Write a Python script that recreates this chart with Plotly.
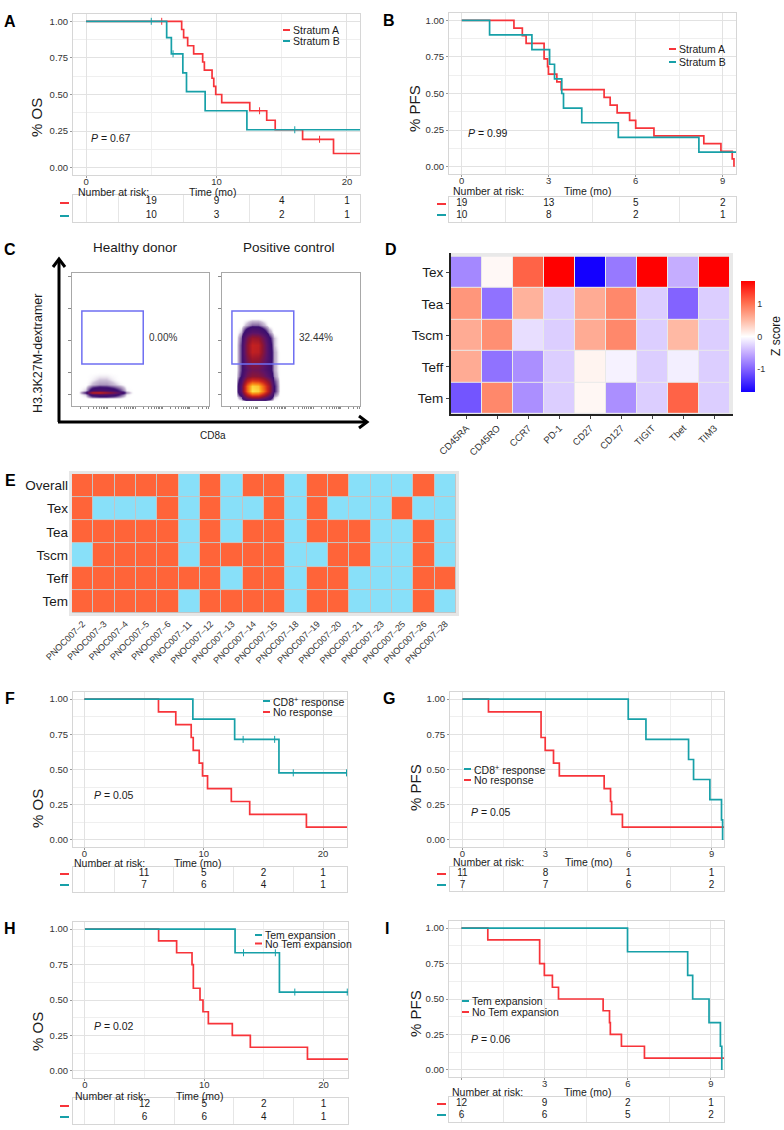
import math
import plotly.graph_objects as go

W, H = 784, 1130
FONT = "Liberation Sans, Arial, Helvetica, sans-serif"
INK = "#1a1a1a"
RED = "#f7343a"
TEAL = "#17a0a8"

# ---------------- data ----------------
# A: overall survival by stratum (months, survival fraction)
A_red_t = [0, 7.33, 7.48, 7.79, 8.25, 8.94, 9.07, 9.66, 9.79, 9.94, 10.4, 12.55, 13.85, 14.5, 16.6, 18.97]
A_red_s = [1.0, 0.944, 0.889, 0.833, 0.778, 0.722, 0.667, 0.611, 0.556, 0.5, 0.444, 0.389, 0.324, 0.259, 0.194, 0.097]
A_red_cens = [5.8, 13.3, 17.9]
A_teal_t = [0, 6.18, 6.54, 7.42, 7.7, 9.13, 12.33]
A_teal_s = [1.0, 0.889, 0.778, 0.648, 0.519, 0.389, 0.259]
A_teal_cens = [5.0, 6.67, 16.0]
A_risk_t = [5, 10, 15, 20]
A_risk_red = [19, 9, 4, 1]
A_risk_teal = [10, 3, 2, 1]

# B: progression-free survival by stratum
B_red_t = [0, 1.8, 2.09, 2.22, 2.84, 2.96, 2.99, 3.28, 3.43, 4.91, 5.12, 5.36, 5.79, 6.0, 6.63, 8.35, 8.94, 9.33, 9.39]
B_red_s = [1.0, 0.947, 0.895, 0.842, 0.737, 0.684, 0.632, 0.579, 0.526, 0.474, 0.421, 0.368, 0.316, 0.263, 0.21, 0.158, 0.105, 0.053, 0.0]
B_teal_t = [0, 0.96, 2.42, 3.03, 3.2, 3.45, 3.51, 4.14, 5.4, 8.18]
B_teal_s = [1.0, 0.9, 0.8, 0.7, 0.6, 0.5, 0.4, 0.3, 0.2, 0.1]
B_risk_t = [0, 3, 6, 9]
B_risk_red = [19, 13, 5, 2]
B_risk_teal = [10, 8, 2, 1]

# C: flow density grids (x, y in display decades)
C_hd_x = [0.25, 0.5, 0.75, 1.0, 1.25, 1.5, 1.75, 2.0, 2.25]
C_hd_y = [0.3, 0.44, 0.52, 0.6, 0.8, 1.0, 1.3]
C_hd_z = [
    [0, 0, 0, 0, 0, 0, 0, 0, 0],
    [0, 0.1, 0.8, 1.0, 1.0, 0.8, 0.4, 0.05, 0],
    [0, 0.5, 4.2, 4.6, 3.6, 2.5, 1.2, 0.2, 0],
    [0, 0.1, 0.8, 1.0, 0.9, 0.7, 0.4, 0.05, 0],
    [0, 0, 0.12, 0.2, 0.2, 0.12, 0.05, 0, 0],
    [0, 0, 0.05, 0.1, 0.1, 0.05, 0, 0, 0],
    [0, 0, 0, 0, 0, 0, 0, 0, 0],
]
C_pc_x = [0.5, 0.7, 0.9, 1.1, 1.3, 1.5, 1.7, 1.9, 2.1, 2.3]
C_pc_y = [0.2, 0.35, 0.55, 0.75, 0.95, 1.15, 1.35, 1.55, 1.8, 2.05, 2.3, 2.55, 2.8, 3.05, 3.3]
C_pc_z = [
    [0, 0, 0, 0, 0, 0, 0, 0, 0, 0],
    [0, 0.3, 2.5, 3.5, 3.5, 2.5, 1.2, 0.1, 0, 0],
    [0, 1.5, 6.5, 10, 9.5, 7, 3.5, 0.5, 0, 0],
    [0, 1.5, 6.5, 9.5, 9, 6.5, 3.5, 0.5, 0, 0],
    [0, 1.0, 4.2, 5.5, 5.2, 4.2, 2.5, 0.4, 0, 0],
    [0, 0.5, 2.2, 2.8, 2.7, 2.2, 1.2, 0.2, 0, 0],
    [0, 0.4, 1.6, 2.1, 2.0, 1.5, 0.8, 0.15, 0, 0],
    [0, 0.4, 1.9, 2.6, 2.5, 1.7, 0.8, 0.15, 0, 0],
    [0, 0.4, 2.4, 3.4, 3.2, 2.2, 0.9, 0.15, 0, 0],
    [0, 0.4, 2.8, 4.3, 4.1, 2.6, 0.9, 0.15, 0, 0],
    [0, 0.4, 2.8, 4.4, 4.2, 2.6, 0.8, 0.1, 0, 0],
    [0, 0.3, 2.2, 3.3, 3.1, 2.0, 0.6, 0.1, 0, 0],
    [0, 0.1, 0.9, 1.4, 1.3, 0.8, 0.2, 0, 0, 0],
    [0, 0, 0.15, 0.3, 0.3, 0.15, 0, 0, 0, 0],
    [0, 0, 0, 0, 0, 0, 0, 0, 0, 0],
]
C_gate = [0.36, 2.6, 1.58, 3.57]
C_pct = ["0.00%", "32.44%"]

# D: z scores
D_markers = ["CD45RA", "CD45RO", "CCR7", "PD-1", "CD27", "CD127", "TIGIT", "Tbet", "TIM3"]
D_subsets = ["Tex", "Tea", "Tscm", "Teff", "Tem"]
D_z = [
    [-0.75, 0.05, 1.1, 1.7, -1.7, -0.85, 1.7, -0.5, 1.7],
    [0.75, -0.9, 0.55, -0.3, 0.6, 0.85, -0.3, -1.0, -0.3],
    [0.6, 0.8, -0.2, -0.3, 0.6, 0.85, -0.3, 0.5, -0.3],
    [0.6, -0.9, -0.7, -0.3, 0.08, -0.08, -0.3, -0.1, -0.3],
    [-1.1, 0.85, -0.7, -0.3, 0.06, -0.7, -0.3, 1.1, -0.3],
]

# E: response per patient (1 = response, 0 = none)
E_patients = ["PNOC007–2", "PNOC007–3", "PNOC007–4", "PNOC007–5", "PNOC007–6", "PNOC007–11",
              "PNOC007–12", "PNOC007–13", "PNOC007–14", "PNOC007–15", "PNOC007–18", "PNOC007–19",
              "PNOC007–20", "PNOC007–21", "PNOC007–23", "PNOC007–25", "PNOC007–26", "PNOC007–28"]
E_rows = ["Overall", "Tex", "Tea", "Tscm", "Teff", "Tem"]
E_z = [
    [1, 1, 1, 1, 1, 0, 1, 0, 1, 1, 0, 1, 1, 0, 0, 0, 1, 0],
    [1, 0, 0, 0, 1, 0, 1, 0, 0, 1, 0, 1, 0, 0, 0, 1, 0, 0],
    [1, 1, 1, 1, 1, 0, 1, 0, 1, 1, 0, 1, 1, 1, 0, 0, 1, 0],
    [0, 1, 1, 1, 1, 0, 1, 1, 1, 1, 0, 0, 1, 1, 0, 0, 1, 0],
    [1, 1, 1, 1, 1, 1, 1, 0, 1, 1, 0, 1, 1, 0, 0, 0, 1, 1],
    [1, 1, 1, 1, 1, 0, 1, 1, 1, 1, 0, 1, 1, 0, 0, 0, 1, 0],
]

# F: OS by CD8+ response
F_red_t = [0, 6.21, 7.66, 8.95, 9.12, 9.62, 9.9, 10.32, 12.31, 13.85, 18.6]
F_red_s = [1.0, 0.909, 0.818, 0.727, 0.636, 0.545, 0.455, 0.364, 0.273, 0.182, 0.091]
F_teal_t = [0, 9.09, 12.59, 16.3]
F_teal_s = [1.0, 0.857, 0.714, 0.476]
F_teal_cens = [13.3, 15.94, 17.5, 21.96]
F_risk_t = [5, 10, 15, 20]
F_risk_red = [11, 5, 2, 1]
F_risk_teal = [7, 6, 4, 1]

# G: PFS by CD8+ response
G_red_t = [0, 0.94, 2.84, 2.99, 3.29, 3.5, 5.12, 5.35, 5.39, 5.78]
G_red_s = [1.0, 0.909, 0.727, 0.636, 0.545, 0.455, 0.364, 0.273, 0.182, 0.091]
G_teal_t = [0, 5.99, 6.63, 8.17, 8.35, 8.94, 9.36, 9.4]
G_teal_s = [1.0, 0.857, 0.714, 0.571, 0.429, 0.286, 0.143, 0.0]
G_risk_t = [0, 3, 6, 9]
G_risk_red = [11, 8, 1, 1]
G_risk_teal = [7, 7, 6, 2]

# H: OS by Tem expansion
H_red_t = [0, 6.18, 7.69, 8.98, 9.09, 9.65, 9.9, 10.35, 12.36, 13.87, 18.66]
H_red_s = [1.0, 0.917, 0.833, 0.75, 0.583, 0.5, 0.417, 0.333, 0.25, 0.167, 0.083]
H_teal_t = [0, 12.59, 16.31]
H_teal_s = [1.0, 0.833, 0.556]
H_teal_cens = [13.3, 15.97, 17.6, 22.0]
H_risk_t = [5, 10, 15, 20]
H_risk_red = [12, 5, 2, 1]
H_risk_teal = [6, 6, 4, 1]

# I: PFS by Tem expansion
I_red_t = [0, 0.95, 2.82, 2.99, 3.28, 3.5, 5.11, 5.34, 5.37, 5.77, 6.6]
I_red_s = [1.0, 0.917, 0.75, 0.667, 0.583, 0.5, 0.417, 0.333, 0.25, 0.167, 0.083]
I_teal_t = [0, 5.99, 8.16, 8.34, 8.93, 9.34, 9.39]
I_teal_s = [1.0, 0.833, 0.667, 0.5, 0.333, 0.167, 0.0]
I_risk_t = [0, 3, 6, 9]
I_risk_red = [12, 9, 2, 1]
I_risk_teal = [6, 6, 5, 2]

# ---------------- helpers ----------------
fig = go.Figure()
layout = {}
ann = []
shapes = []
n_ax = [0]


def new_axes(box, xaxis, yaxis):
    n_ax[0] += 1
    sx = "" if n_ax[0] == 1 else str(n_ax[0])
    x0, y0, x1, y1 = box
    layout["xaxis" + sx] = dict(domain=[x0 / W, x1 / W], anchor="y" + sx, automargin=False, **xaxis)
    layout["yaxis" + sx] = dict(domain=[1 - y1 / H, 1 - y0 / H], anchor="x" + sx, automargin=False, **yaxis)
    return "x" + sx, "y" + sx


def text(x, y, s, size=10.5, xanchor="left", angle=0, bold=False, color=INK):
    ann.append(dict(x=x / W, y=1 - y / H, xref="paper", yref="paper", text=s, showarrow=False,
                    xanchor=xanchor, yanchor="middle", textangle=angle,
                    font=dict(size=size, family=FONT, color=color,
                              weight="bold" if bold else "normal")))


def seg(x0, y0, x1, y1, color, width=2):
    shapes.append(dict(type="line", xref="paper", yref="paper", x0=x0 / W, y0=1 - y0 / H,
                       x1=x1 / W, y1=1 - y1 / H, line=dict(color=color, width=width)))


def step_at(ts, ss, t):
    v = ss[0]
    for a, b in zip(ts, ss):
        if a <= t:
            v = b
    return v


def km_panel(p):
    pfs = p["pfs"]
    xmaj = [0, 3, 6, 9] if pfs else [0, 10, 20]
    xmin_ = [1.5, 4.5, 7.5] if pfs else [5, 15]
    tgrid = [0, 1.5, 4.5, 7.5] if pfs else [0, 2.5, 7.5, 12.5, 17.5]
    xlab = p.get("xlab", [str(v) for v in xmaj])
    ax = dict(range=p["xr"], tickvals=xmaj, ticktext=xlab, showgrid=True, gridcolor="#e2e2e2",
              minor=dict(tickvals=xmin_, showgrid=True, gridcolor="#efefef"),
              showline=True, mirror=True, linecolor="#d6d6d6", ticks="outside", ticklen=2,
              ticklabelstandoff=-4,
              tickcolor="#9a9a9a", tickfont=dict(size=9.5, family=FONT, color="#333"), zeroline=False)
    ay = dict(range=[-0.05, 1.05], tickvals=[0, 0.25, 0.5, 0.75, 1.0],
              ticktext=["0.00", "0.25", "0.50", "0.75", "1.00"], showgrid=True, gridcolor="#e2e2e2",
              minor=dict(tickvals=[0.125, 0.375, 0.625, 0.875], showgrid=True, gridcolor="#efefef"),
              showline=True, mirror=True, linecolor="#d6d6d6", ticks="outside", ticklen=2,
              tickcolor="#9a9a9a", tickfont=dict(size=9.5, family=FONT, color="#333"), zeroline=False)
    xa, ya = new_axes(p["box"], ax, ay)
    for c in p["curves"]:
        fig.add_trace(go.Scatter(x=c["t"] + [c["end"]], y=c["s"] + [c["s"][-1]], xaxis=xa, yaxis=ya,
                                 mode="lines", line=dict(color=c["color"], width=1.7, shape="hv"),
                                 showlegend=False, hoverinfo="skip"))
        if c.get("cens"):
            fig.add_trace(go.Scatter(x=c["cens"], y=[step_at(c["t"], c["s"], t) for t in c["cens"]],
                                     xaxis=xa, yaxis=ya, mode="markers",
                                     marker=dict(symbol="line-ns", size=5,
                                                 line=dict(color=c["color"], width=1)),
                                     showlegend=False, hoverinfo="skip"))
    # risk table
    tx = dict(range=p["xr"], tickvals=tgrid, showticklabels=False, showgrid=True, gridcolor="#e6e6e6",
              showline=True, mirror=True, linecolor="#d6d6d6", ticks="", zeroline=False)
    ty = dict(range=[0.5, 2.5], showticklabels=False, showgrid=False, showline=True, mirror=True,
              linecolor="#d6d6d6", zeroline=False)
    txa, tya = new_axes(p["tbox"], tx, ty)
    for row, vals in ((2, p["risk_red"]), (1, p["risk_teal"])):
        fig.add_trace(go.Scatter(x=p["risk_t"], y=[row] * len(vals), text=[str(v) for v in vals],
                                 mode="text", xaxis=txa, yaxis=tya, cliponaxis=False,
                                 textfont=dict(size=10, family=FONT, color=INK),
                                 showlegend=False, hoverinfo="skip"))
    kx = p["key_x"]
    ty0, ty1 = p["trows"]
    seg(kx, ty0, kx + 9, ty0, RED, 2)
    seg(kx, ty1, kx + 9, ty1, TEAL, 2)
    text(p["nar"][0], p["nar"][1], "Number at risk:", size=10.5)
    text(p["time"][0], p["time"][1], "Time (mo)", size=10.5, xanchor="center")
    text(p["ylab"][0], p["ylab"][1], "% PFS" if pfs else "% OS", size=15, xanchor="center", angle=-90)
    text(p["p"][0], p["p"][1], "<i>P</i> = " + p["pval"], size=10.5)
    lx, ly, dy = p["leg"]
    for i, (lab, col) in enumerate(p["legend"]):
        yy = ly + i * dy
        seg(lx, yy, lx + 7, yy, col, 2)
        text(lx + 8, yy, lab, size=10.5)


# ---------------- KM panels ----------------
km_panel(dict(pfs=False, box=(73, 14, 360, 175), tbox=(73, 195, 360, 222), xr=[-1.0, 21.0],
              curves=[dict(t=A_red_t, s=A_red_s, end=22, cens=A_red_cens, color=RED),
                      dict(t=A_teal_t, s=A_teal_s, end=22, cens=A_teal_cens, color=TEAL)],
              risk_t=A_risk_t, risk_red=A_risk_red, risk_teal=A_risk_teal,
              key_x=60, trows=(203, 216), nar=(76, 192), time=(212, 192), ylab=(37, 118),
              p=(89, 138), pval="0.67", leg=(283, 30, 11),
              legend=[("Stratum A", RED), ("Stratum B", TEAL)]))
km_panel(dict(pfs=True, box=(449, 13, 736, 174), tbox=(449, 197, 736, 222), xr=[-0.44, 9.46],
              curves=[dict(t=B_red_t, s=B_red_s, end=9.39, color=RED),
                      dict(t=B_teal_t, s=B_teal_s, end=9.5, color=TEAL)],
              risk_t=B_risk_t, risk_red=B_risk_red, risk_teal=B_risk_teal,
              key_x=437, trows=(204, 215), nar=(451, 191), time=(587, 191), ylab=(415, 109),
              p=(466, 133), pval="0.99", leg=(669, 49, 13),
              legend=[("Stratum A", RED), ("Stratum B", TEAL)]))
km_panel(dict(pfs=False, box=(73, 692, 347, 847), tbox=(73, 867, 347, 892), xr=[-0.95, 22.0],
              curves=[dict(t=F_red_t, s=F_red_s, end=23, color=RED),
                      dict(t=F_teal_t, s=F_teal_s, end=23, cens=F_teal_cens, color=TEAL)],
              risk_t=F_risk_t, risk_red=F_risk_red, risk_teal=F_risk_teal,
              key_x=60, trows=(874, 885), nar=(72, 863), time=(198, 863), ylab=(37, 809),
              p=(92, 795), pval="0.05", leg=(263, 701, 11),
              legend=[("CD8<sup>+</sup> response", TEAL), ("No response", RED)]))
km_panel(dict(pfs=True, box=(450, 692, 724, 847), tbox=(450, 867, 724, 891), xr=[-0.45, 9.45],
              curves=[dict(t=G_red_t, s=G_red_s, end=9.5, color=RED),
                      dict(t=G_teal_t, s=G_teal_s, end=9.4, color=TEAL)],
              risk_t=G_risk_t, risk_red=G_risk_red, risk_teal=G_risk_teal,
              key_x=437, trows=(874, 885), nar=(451, 862), time=(588, 862), ylab=(415, 788),
              p=(469, 812), pval="0.05", leg=(464, 769, 11),
              legend=[("CD8<sup>+</sup> response", TEAL), ("No response", RED)]))
km_panel(dict(pfs=False, box=(73, 922, 348, 1078), tbox=(73, 1098, 348, 1124), xr=[-1.0, 22.06],
              curves=[dict(t=H_red_t, s=H_red_s, end=23, color=RED),
                      dict(t=H_teal_t, s=H_teal_s, end=23, cens=H_teal_cens, color=TEAL)],
              risk_t=H_risk_t, risk_red=H_risk_red, risk_teal=H_risk_teal,
              key_x=60, trows=(1106, 1117), nar=(73, 1096), time=(199, 1096), ylab=(37, 1032),
              p=(92, 1026), pval="0.02", leg=(255, 935, 8.5),
              legend=[("Tem expansion", TEAL), ("No Tem expansion", RED)]))
km_panel(dict(pfs=True, box=(449, 921, 724, 1077), tbox=(449, 1097, 724, 1122), xr=[-0.45, 9.47],
              xlab=["", "3", "6", "9"],
              curves=[dict(t=I_red_t, s=I_red_s, end=9.5, color=RED),
                      dict(t=I_teal_t, s=I_teal_s, end=9.39, color=TEAL)],
              risk_t=I_risk_t, risk_red=I_risk_red, risk_teal=I_risk_teal,
              key_x=437, trows=(1104, 1115), nar=(450, 1092), time=(587, 1092), ylab=(415, 1014),
              p=(469, 1039), pval="0.06", leg=(462, 1001, 11),
              legend=[("Tem expansion", TEAL), ("No Tem expansion", RED)]))

# ---------------- C: flow plots ----------------
flow_cs = [[0, "rgba(255,255,255,0)"], [0.01, "rgba(60,10,100,0.25)"], [0.05, "#3b0f70"],
           [0.16, "#5e1468"], [0.3, "#921530"], [0.45, "#c8221f"], [0.62, "#ee5a17"],
           [0.8, "#fb9b1a"], [1.0, "#fde64b"]]
xticks = [d + math.log10(m) for d in (0.3, 1.3, 2.3, 3.3, 4.3) for m in range(1, 10) if d + math.log10(m) < 5]
for box, gx, gy, gz, pct in (((72, 273, 209, 406), C_hd_x, C_hd_y, C_hd_z, C_pct[0]),
                             ((222, 273, 360, 406), C_pc_x, C_pc_y, C_pc_z, C_pct[1])):
    fx = dict(range=[0, 5], tickvals=xticks, showticklabels=False, showgrid=False, zeroline=False,
              showline=True, mirror=True, linecolor="#a8a8a8", ticks="outside", ticklen=2,
              tickcolor="#8a8a8a")
    fy = dict(range=[0, 5], tickvals=[0.45, 1.25, 2.45, 3.67, 4.86], showticklabels=False, showgrid=False,
              zeroline=False, showline=True, mirror=True, linecolor="#a8a8a8", ticks="outside",
              ticklen=3, tickcolor="#8a8a8a")
    xa, ya = new_axes(box, fx, fy)
    fig.add_trace(go.Heatmap(x=gx, y=gy, z=gz, xaxis=xa, yaxis=ya, zmin=0, zmax=10, zsmooth="best",
                             colorscale=flow_cs, showscale=False, hoverinfo="skip"))
    x0, x1, y0, y1 = C_gate
    shapes.append(dict(type="rect", xref=xa, yref=ya, x0=x0, x1=x1, y0=y0, y1=y1,
                       line=dict(color="#6f6ff2", width=1.5)))
    ann.append(dict(x=x1 + 0.12, y=(y0 + y1) / 2, xref=xa, yref=ya, text=pct, showarrow=False,
                    xanchor="left", font=dict(size=10, family=FONT, color="#333")))

# big arrow axes
seg(59, 422, 59, 260, "black", 3)
seg(58, 422, 366, 422, "black", 3)
for pts in (((53, 267), (59, 259), (65, 267)), ((359, 416), (367, 422), (359, 428))):
    path = "M " + " L ".join(f"{x / W} {1 - y / H}" for x, y in pts)
    shapes.append(dict(type="path", xref="paper", yref="paper", path=path,
                       line=dict(color="black", width=3)))
text(38, 353, "H3.3K27M-dextramer", size=12.5, xanchor="center", angle=-90)
text(213, 435, "CD8a", size=10, xanchor="center")
text(135, 248, "Healthy donor", size=13.5, xanchor="center")
text(289, 248, "Positive control", size=13.5, xanchor="center")

# ---------------- D: heatmap ----------------
dx = dict(range=[-0.5, 8.6], showgrid=False, zeroline=False, showline=True, linecolor="#222",
          linewidth=2, ticks="outside", ticklen=3, tickcolor="#444", tickangle=-45,
          tickfont=dict(size=9.5, family=FONT, color="#333"))
dy = dict(range=[4.5, -0.62], showgrid=False, zeroline=False, showline=True, linecolor="#222",
          linewidth=2, ticks="outside", ticklen=3, tickcolor="#444",
          tickfont=dict(size=13.5, family=FONT, color=INK))
xa, ya = new_axes((451, 253, 733, 414), dx, dy)
shapes.append(dict(type="rect", xref=xa, yref=ya, x0=-0.5, x1=8.6, y0=-0.62, y1=4.5,
                   fillcolor="#e9e9e9", line=dict(width=0), layer="below"))
zcs = [[0, "#1400ff"], [0.2, "#8060ff"], [0.35, "#c4abff"], [0.5, "#ffffff"],
       [0.65, "#ffb8a2"], [0.8, "#ff7050"], [1.0, "#ff0000"]]
fig.add_trace(go.Heatmap(x=D_markers, y=D_subsets, z=D_z, xaxis=xa, yaxis=ya, zmin=-1.7, zmax=1.7,
                         colorscale=zcs, xgap=1, ygap=1, hoverinfo="skip",
                         colorbar=dict(x=741 / W, xanchor="left", y=1 - 336.5 / H, yanchor="middle",
                                       len=111 / H, lenmode="fraction", thickness=14, outlinewidth=0,
                                       tickvals=[-1, 0, 1], ticktext=["-1", "0", "1"], ticks="",
                                       xpad=0, ypad=0,
                                       tickfont=dict(size=9, family=FONT, color="#333"))))
text(776, 336, "Z score", size=12, xanchor="center", angle=-90)

# ---------------- E: response grid ----------------
ex = dict(range=[-0.64, 17.64], showgrid=False, zeroline=False, showline=False, ticks="",
          tickangle=-45, tickfont=dict(size=9, family=FONT, color="#333"))
ey = dict(range=[5.63, -0.63], showgrid=False, zeroline=False, showline=False, ticks="",
          tickfont=dict(size=13.5, family=FONT, color=INK))
xa, ya = new_axes((69, 471, 459, 616), ex, ey)
shapes.append(dict(type="rect", xref=xa, yref=ya, x0=-0.64, x1=17.64, y0=-0.63, y1=5.63,
                   fillcolor="#e6e6e6", line=dict(width=0), layer="below"))
shapes.append(dict(type="rect", xref=xa, yref=ya, x0=-0.5, x1=17.5, y0=-0.5, y1=5.5,
                   fillcolor="#c4c4c4", line=dict(width=0), layer="below"))
fig.add_trace(go.Heatmap(x=E_patients, y=E_rows, z=E_z, xaxis=xa, yaxis=ya, zmin=0, zmax=1,
                         colorscale=[[0, "#88e0f9"], [0.5, "#88e0f9"], [0.5, "#ff6439"], [1, "#ff6439"]],
                         xgap=1, ygap=1, showscale=False, hoverinfo="skip"))

# panel letters
for lab, x, y in (("A", 10, 22), ("B", 389, 20), ("C", 10, 249), ("D", 391, 249), ("E", 10, 480),
                  ("F", 10, 698), ("G", 389, 698), ("H", 10, 928), ("I", 387, 928)):
    text(x, y, lab, size=16, xanchor="center", bold=True, color="black")

fig.update_layout(layout)
fig.update_layout(width=W, height=H, margin=dict(l=0, r=0, t=0, b=0, autoexpand=False),
                  paper_bgcolor="white", plot_bgcolor="white", showlegend=False,
                  annotations=ann, shapes=shapes, font=dict(family=FONT, color=INK))
fig.write_html("out.html", config={"displayModeBar": False},
               post_script="document.body.style.margin='0';")
